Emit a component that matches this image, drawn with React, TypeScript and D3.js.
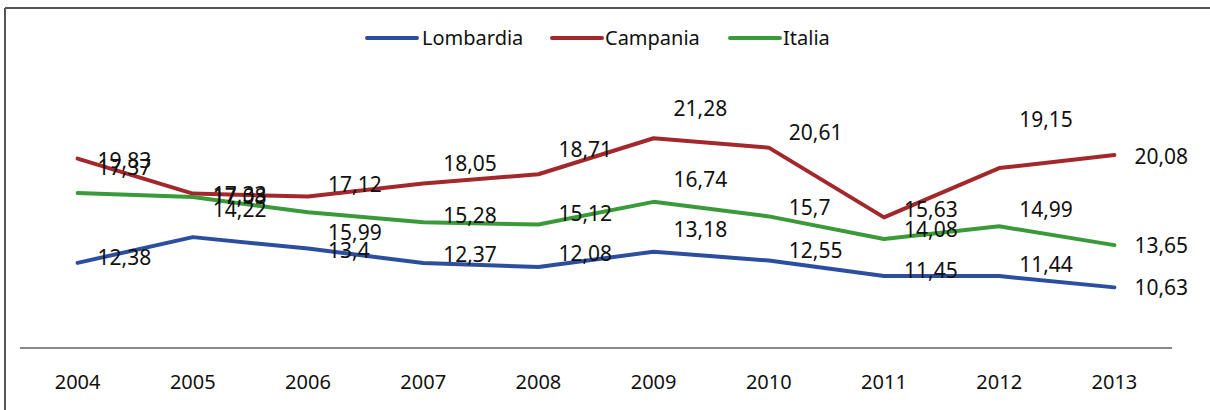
import React from "react";
import * as d3 from "d3";

const years = ["2004", "2005", "2006", "2007", "2008", "2009", "2010", "2011", "2012", "2013"];
const lombardia = [12.38, 14.22, 13.4, 12.37, 12.08, 13.18, 12.55, 11.45, 11.44, 10.63];
const campania = [19.83, 17.33, 17.12, 18.05, 18.71, 21.28, 20.61, 15.63, 19.15, 20.08];
const italia = [17.37, 17.08, 15.99, 15.28, 15.12, 16.74, 15.7, 14.08, 14.99, 13.65];

// vertical offsets of data labels relative to their points (px)
const lombardiaLabelDy = [-5, -27, 2, -8, -13, -22, -10, -5, -11, 0];
const campaniaLabelDy = [2, 1, -12, -20, -25, -30, -15, -8, -48, 2];
const italiaLabelDy = [-25, 0, 20, -7, -11, -22, -9, -9, -17, 1];

const series = [
  { name: "Lombardia", values: lombardia, dys: lombardiaLabelDy, color: "#2B4F9E" },
  { name: "Campania", values: campania, dys: campaniaLabelDy, color: "#A3282C" },
  { name: "Italia", values: italia, dys: italiaLabelDy, color: "#3A9A3A" },
];

const W = 1210;
const H = 410;
const FONT = "'Noto Sans', 'Open Sans', sans-serif";

export default function App() {
  const x = d3.scalePoint<string>().domain(years).range([20, 1172]).padding(0.5);
  const y = d3.scaleLinear().domain([6.3, 26.3]).range([348, 68]);
  const line = d3
    .line<number>()
    .x((_, i) => x(years[i]) as number)
    .y((v) => y(v));

  const legendItems = [
    { lx: 367, tx: 422 },
    { lx: 552, tx: 605 },
    { lx: 730, tx: 783 },
  ];

  const fmt = (v: number) => String(v).replace(".", ",");

  return (
    <svg
      width={W}
      height={H}
      style={{ position: "absolute", left: 0, top: 0, background: "#fff" }}
      fontFamily={FONT}
    >
      <rect x={0} y={0} width={W} height={H} fill="#fff" />
      {/* frame */}
      <line x1={5} y1={8} x2={W} y2={8} stroke="#555" strokeWidth={2} />
      <line x1={5} y1={8} x2={5} y2={H} stroke="#555" strokeWidth={2} />
      {/* x axis */}
      <line x1={20} y1={348} x2={1172} y2={348} stroke="#8a8a8a" strokeWidth={2} />
      {years.map((yr) => (
        <text
          key={yr}
          x={x(yr)}
          y={382}
          dy="0.35em"
          textAnchor="middle"
          fontSize={20}
          fill="#111"
        >
          {yr}
        </text>
      ))}
      {/* lines */}
      {series.map((s) => (
        <path
          key={s.name}
          d={line(s.values) || ""}
          fill="none"
          stroke={s.color}
          strokeWidth={4}
          strokeLinejoin="round"
          strokeLinecap="round"
        />
      ))}
      {/* labels */}
      {series.map((s) =>
        s.values.map((v, i) => (
          <text
            key={s.name + i}
            x={(x(years[i]) as number) + 20}
            y={y(v) + s.dys[i]}
            dy="0.35em"
            fontSize={21}
            fill="#111"
          >
            {fmt(v)}
          </text>
        ))
      )}
      {/* legend */}
      {series.map((s, i) => (
        <g key={"lg" + s.name}>
          <line
            x1={legendItems[i].lx}
            y1={38}
            x2={legendItems[i].lx + 50}
            y2={38}
            stroke={s.color}
            strokeWidth={4}
            strokeLinecap="round"
          />
          <text x={legendItems[i].tx} y={38} dy="0.35em" fontSize={20} fill="#111">
            {s.name}
          </text>
        </g>
      ))}
    </svg>
  );
}
